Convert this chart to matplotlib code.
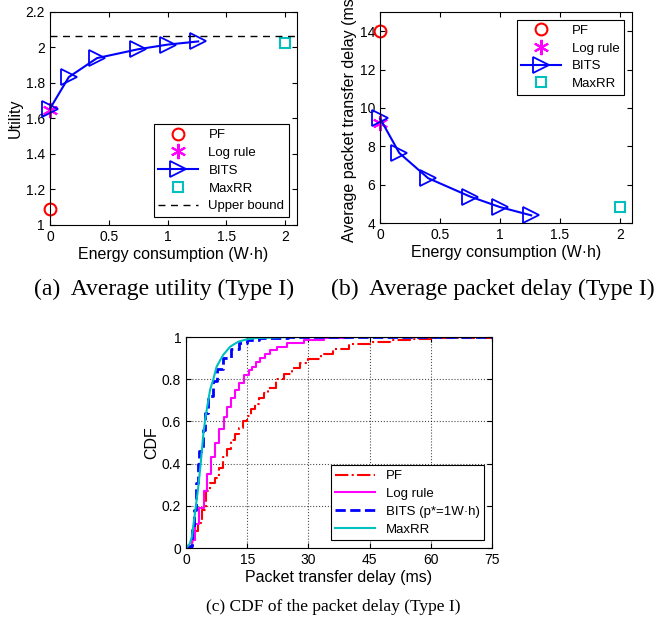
import matplotlib
matplotlib.use("Agg")
import matplotlib.pyplot as plt

plt.rcParams['font.family'] = ['Liberation Sans', 'DejaVu Sans']
plt.rcParams['xtick.direction'] = 'in'
plt.rcParams['ytick.direction'] = 'in'
plt.rcParams['xtick.top'] = True
plt.rcParams['ytick.right'] = True

# (a) / (b): energy vs utility / delay
bits_energy = [0.0, 0.16, 0.40, 0.75, 1.0, 1.26]
bits_utility = [1.655, 1.833, 1.94, 1.99, 2.016, 2.034]
bits_delay = [9.45, 7.65, 6.34, 5.38, 4.83, 4.4]

pf_energy, pf_utility, pf_delay = [0.0], [1.09], [14.0]
log_energy, log_utility, log_delay = [0.0], [1.65], [9.22]
maxrr_energy, maxrr_utility, maxrr_delay = [2.0], [2.025], [4.81]
upper_bound = 2.063

# (c): CDF of packet delay (ms)
pf_x = [0, 1.5, 2.2, 3.0, 4.0, 5.0, 6.0, 7.0, 8.0, 9.0, 10.0, 11.0, 12.0, 13.0,
        14.0, 15.0, 16.0, 17.0, 18.0, 19.0, 20.0, 22.0, 24.0, 26.0, 28.0, 30.0,
        33.0, 36.0, 40.0, 45.0, 50.0, 55.0, 60.0, 75.0]
pf_cdf = [0, 0.03, 0.08, 0.12, 0.18, 0.27, 0.31, 0.33, 0.38, 0.43, 0.47, 0.51, 0.54,
          0.57, 0.60, 0.625, 0.66, 0.685, 0.71, 0.735, 0.76, 0.80, 0.825, 0.855,
          0.875, 0.895, 0.922, 0.945, 0.965, 0.978, 0.986, 0.993, 0.997, 1.0]

log_x = [0, 1.4, 2.2, 3.2, 4.3, 5.2, 6.1, 7.2, 8.1, 9.2, 10.1, 11.1, 12.1, 13.1,
         14.3, 15.4, 16.1, 17.2, 18.2, 19.4, 20.6, 22.2, 24.7, 28.8, 33.7, 40.0, 75.0]
log_cdf = [0, 0.04, 0.115, 0.19, 0.27, 0.35, 0.43, 0.50, 0.565, 0.62, 0.67, 0.71,
           0.75, 0.78, 0.82, 0.845, 0.86, 0.88, 0.90, 0.92, 0.937, 0.953, 0.97,
           0.987, 0.995, 0.999, 1.0]

bits_x = [0, 0.8, 1.4, 2.0, 2.45, 2.9, 3.3, 4.1, 4.7, 5.5, 6.5, 7.5, 9.0, 11.0,
          13.0, 15.0, 18.0, 25.0, 75.0]
bits_cdf = [0, 0.01, 0.10, 0.18, 0.31, 0.40, 0.46, 0.56, 0.64, 0.72, 0.79, 0.85,
            0.90, 0.945, 0.972, 0.987, 0.995, 1.0, 1.0]

maxrr_x = [0, 0.9, 1.4, 2.2, 3.0, 3.6, 4.25, 4.7, 5.2, 5.9, 6.7, 7.5, 9.1, 10.8,
           12.8, 14.9, 17.0, 25.0, 75.0]
maxrr_cdf = [0, 0.02, 0.05, 0.165, 0.29, 0.40, 0.54, 0.61, 0.67, 0.75, 0.80, 0.86,
             0.915, 0.954, 0.978, 0.989, 0.995, 1.0, 1.0]

fig = plt.figure(figsize=(6.61, 6.3), dpi=100)
tick_fs = 10
label_fs = 11.5
leg_fs = 9.5
leg_kw = dict(fontsize=leg_fs, fancybox=False, edgecolor='black', handlelength=3.0,
              borderaxespad=0.6, labelspacing=0.42, borderpad=0.35, framealpha=1)

# ---- (a) utility ----
ax1 = fig.add_axes([0.0756, 0.643, 0.3737, 0.338])
ax1.plot(pf_energy, pf_utility, 'o', color='red', mfc='none', ms=8.5, mew=1.5,
         label='PF', clip_on=False)
ax1.plot(log_energy, log_utility, marker=(6, 2, 0), ls='none', color='magenta',
         ms=11, mew=1.5, label='Log rule', clip_on=False)
ax1.plot(bits_energy, bits_utility, '->', color='blue', mfc='none', ms=11, mew=1.3,
         lw=1.5, label='BITS', clip_on=False)
ax1.plot(maxrr_energy, maxrr_utility, 's', color='#00bfbf', mfc='none', ms=7.5, mew=1.5,
         label='MaxRR')
ax1.axhline(upper_bound, color='black', ls='--', lw=1, dashes=(5, 4), label='Upper bound')
ax1.set_xlim(0, 2.1)
ax1.set_ylim(1, 2.2)
ax1.set_xticks([0, 0.5, 1, 1.5, 2])
ax1.set_xticklabels(['0', '0.5', '1', '1.5', '2'])
ax1.set_yticks([1, 1.2, 1.4, 1.6, 1.8, 2, 2.2])
ax1.set_yticklabels(['1', '1.2', '1.4', '1.6', '1.8', '2', '2.2'])
ax1.tick_params(labelsize=tick_fs)
ax1.set_xlabel('Energy consumption (W·h)', fontsize=label_fs, labelpad=2)
ax1.set_ylabel('Utility', fontsize=label_fs, labelpad=2)
leg = ax1.legend(loc='lower right', **leg_kw)
leg.get_frame().set_linewidth(0.8)

# ---- (b) delay ----
ax2 = fig.add_axes([0.575, 0.646, 0.381, 0.335])
ax2.plot(pf_energy, pf_delay, 'o', color='red', mfc='none', ms=8.5, mew=1.5,
         label='PF', clip_on=False)
ax2.plot(log_energy, log_delay, marker=(6, 2, 0), ls='none', color='magenta',
         ms=11, mew=1.5, label='Log rule', clip_on=False)
ax2.plot(bits_energy, bits_delay, '->', color='blue', mfc='none', ms=11, mew=1.3,
         lw=1.5, label='BITS', clip_on=False)
ax2.plot(maxrr_energy, maxrr_delay, 's', color='#00bfbf', mfc='none', ms=7.5, mew=1.5,
         label='MaxRR')
ax2.set_xlim(0, 2.1)
ax2.set_ylim(4, 15)
ax2.set_xticks([0, 0.5, 1, 1.5, 2])
ax2.set_xticklabels(['0', '0.5', '1', '1.5', '2'])
ax2.set_yticks([4, 6, 8, 10, 12, 14])
ax2.tick_params(labelsize=tick_fs)
ax2.set_xlabel('Energy consumption (W·h)', fontsize=label_fs, labelpad=2)
ax2.set_ylabel('Average packet transfer delay (ms)', fontsize=label_fs, labelpad=2)
leg = ax2.legend(loc='upper right', **leg_kw)
leg.get_frame().set_linewidth(0.8)

# ---- (c) CDF ----
ax3 = fig.add_axes([0.2814, 0.130, 0.463, 0.335])
ax3.plot(pf_x, pf_cdf, drawstyle='steps-post', color='red', ls='-.', lw=1.5, label='PF')
ax3.plot(log_x, log_cdf, drawstyle='steps-post', color='magenta', lw=1.5, label='Log rule')
ax3.plot(bits_x, bits_cdf, drawstyle='steps-post', color='blue', ls='--', lw=2,
         label='BITS (p*=1W·h)')
ax3.plot(maxrr_x, maxrr_cdf, color='#00bfbf', lw=1.5, label='MaxRR')
ax3.set_xlim(0, 75)
ax3.set_ylim(0, 1)
ax3.set_xticks([0, 15, 30, 45, 60, 75])
ax3.set_yticks([0, 0.2, 0.4, 0.6, 0.8, 1])
ax3.set_yticklabels(['0', '0.2', '0.4', '0.6', '0.8', '1'])
ax3.grid(True, ls=':', color='black', lw=0.8, alpha=0.7)
ax3.tick_params(labelsize=tick_fs)
ax3.set_xlabel('Packet transfer delay (ms)', fontsize=label_fs, labelpad=2)
ax3.set_ylabel('CDF', fontsize=label_fs, labelpad=2)
leg = ax3.legend(loc='lower right', **leg_kw)
leg.get_frame().set_linewidth(0.8)

for ax in (ax1, ax2, ax3):
    for s in ax.spines.values():
        s.set_linewidth(0.8)

# captions
serif = ['Liberation Serif', 'DejaVu Serif']
fig.text(164 / 661, 1 - 289 / 630, '(a)  Average utility (Type I)', fontsize=17,
         family=serif, ha='center', va='center')
fig.text(493 / 661, 1 - 289 / 630, '(b)  Average packet delay (Type I)', fontsize=17,
         family=serif, ha='center', va='center')
fig.text(333 / 661, 1 - 607 / 630, '(c) CDF of the packet delay (Type I)', fontsize=12.5,
         family=serif, ha='center', va='center')

fig.savefig('out.png', dpi=100)
